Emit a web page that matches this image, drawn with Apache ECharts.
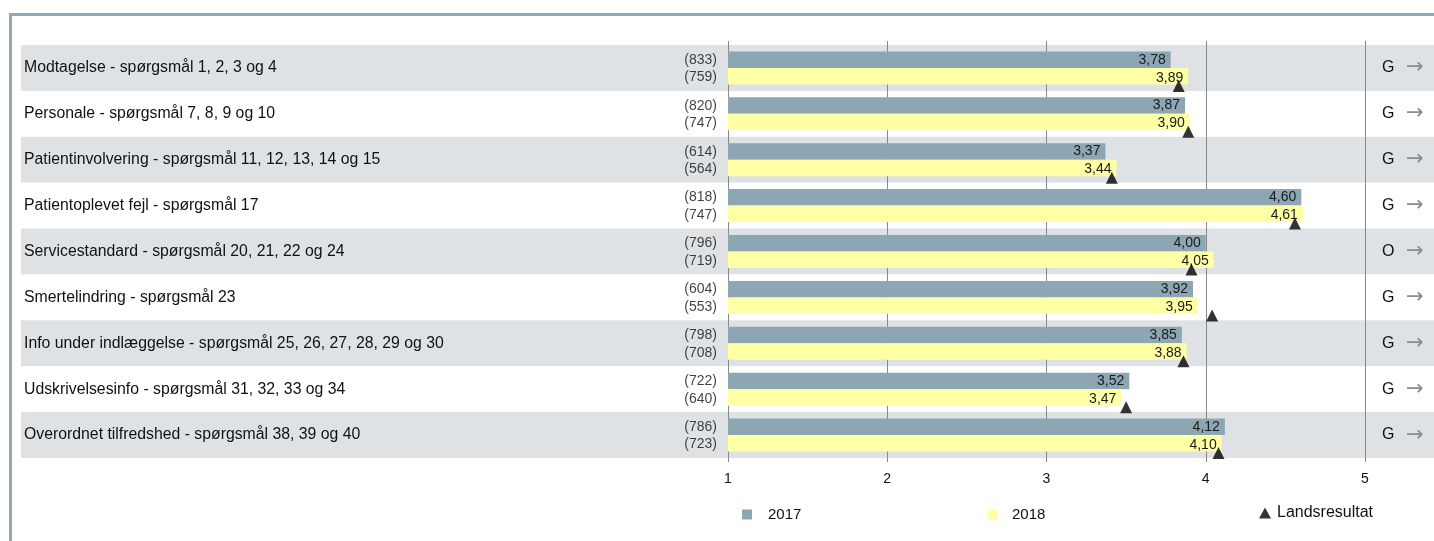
<!DOCTYPE html>
<html><head><meta charset="utf-8">
<script src="https://cdn.jsdelivr.net/npm/echarts@6/dist/echarts.min.js"></script>
<style>html,body{margin:0;padding:0;background:#fff}#c{width:1434px;height:541px}</style>
</head><body><div id="c"></div>
<script>
const categories = [
  'Modtagelse - spørgsmål 1, 2, 3 og 4',
  'Personale - spørgsmål 7, 8, 9 og 10',
  'Patientinvolvering - spørgsmål 11, 12, 13, 14 og 15',
  'Patientoplevet fejl - spørgsmål 17',
  'Servicestandard - spørgsmål 20, 21, 22 og 24',
  'Smertelindring - spørgsmål 23',
  'Info under indlæggelse - spørgsmål 25, 26, 27, 28, 29 og 30',
  'Udskrivelsesinfo - spørgsmål 31, 32, 33 og 34',
  'Overordnet tilfredshed - spørgsmål 38, 39 og 40'
];
const values2017 = [3.78, 3.87, 3.37, 4.60, 4.00, 3.92, 3.85, 3.52, 4.12];
const values2018 = [3.89, 3.90, 3.44, 4.61, 4.05, 3.95, 3.88, 3.47, 4.10];
const n2017 = [833, 820, 614, 818, 796, 604, 798, 722, 786];
const n2018 = [759, 747, 564, 747, 719, 553, 708, 640, 723];
const landsresultat = [3.83, 3.89, 3.41, 4.56, 3.91, 4.04, 3.86, 3.50, 4.08];
const statusLetters = ['G', 'G', 'G', 'G', 'O', 'G', 'G', 'G', 'G'];
const statusArrows = ['→', '→', '→', '→', '→', '→', '→', '→', '→'];
const xTicks = [1, 2, 3, 4, 5];
const seriesNames = ['2017', '2018', 'Landsresultat'];

const FONT = "'Liberation Sans', Arial, sans-serif";
const fmt = v => v.toFixed(2).replace('.', ',');
const idx = categories.map((_, i) => i);

const chart = echarts.init(document.getElementById('c'), null, {renderer: 'canvas'});
const option = {
  animation: false,
  textStyle: {fontFamily: FONT, fontSize: 14, color: '#111'},
  graphic: [{
    type: 'polyline', silent: true,
    shape: {points: [[10.5, 541], [10.5, 14.5], [1434, 14.5]]},
    style: {stroke: '#93aabb', lineWidth: 3, fill: null}
  }],
  grid: [
    {left: 21, right: 0, top: 45, bottom: 83},
    {left: 728, right: 69, top: 45, bottom: 83}
  ],
  xAxis: [
    {gridIndex: 0, type: 'value', show: false, min: 0, max: 1},
    {gridIndex: 1, type: 'value', min: xTicks[0], max: xTicks[xTicks.length - 1], interval: 1,
     axisLine: {show: false},
     axisTick: {show: true, length: 4, lineStyle: {color: '#888'}},
     axisLabel: {margin: 14, fontSize: 14, color: '#111', fontFamily: FONT},
     splitLine: {show: true, lineStyle: {color: '#888', width: 1}}},
    {gridIndex: 1, type: 'value', position: 'top', min: xTicks[0], max: xTicks[xTicks.length - 1], interval: 1,
     axisLine: {show: false},
     axisTick: {show: true, inside: false, length: 4, lineStyle: {color: '#888'}},
     axisLabel: {show: false}, splitLine: {show: false}}
  ],
  yAxis: [
    {gridIndex: 0, type: 'category', data: categories, inverse: true,
     axisLine: {show: false}, axisTick: {show: false},
     axisLabel: {inside: true, margin: 3, fontSize: 15.8, color: '#111', fontFamily: FONT, padding: [2, 0, 0, 0]},
     splitArea: {show: true, areaStyle: {color: ['#dfe2e5', '#ffffff']}},
     splitLine: {show: false}, z: 0},
    {gridIndex: 1, type: 'category', data: categories, inverse: true,
     axisLine: {show: false}, axisTick: {show: false}, axisLabel: {show: false}},
    {gridIndex: 1, type: 'category', data: statusLetters, inverse: true, position: 'right',
     axisLine: {show: false}, axisTick: {show: false},
     axisLabel: {margin: 17, align: 'left', fontSize: 16, color: '#111', fontFamily: FONT}},
    {gridIndex: 1, type: 'category', data: statusArrows, inverse: true, position: 'right',
     axisLine: {show: false}, axisTick: {show: false},
     axisLabel: {margin: 41, align: 'left', fontSize: 21, color: '#8a8a8a', fontFamily: "'DejaVu Sans', sans-serif"}}
  ],
  legend: [
    {data: [seriesNames[0]], left: 742, top: 507, padding: 0, itemWidth: 10, itemHeight: 10, icon: 'rect',
     textStyle: {fontSize: 15, color: '#111', fontFamily: FONT, padding: [0, 0, 0, 11]}, selectedMode: false},
    {data: [seriesNames[1]], left: 988, top: 507, padding: 0, itemWidth: 10, itemHeight: 10, icon: 'rect',
     textStyle: {fontSize: 15, color: '#111', fontFamily: FONT, padding: [0, 0, 0, 9]}, selectedMode: false},
    {data: [seriesNames[2]], left: 1259, top: 505, padding: 0, itemWidth: 12, itemHeight: 11, icon: 'triangle',
     textStyle: {fontSize: 16, color: '#111', fontFamily: FONT, padding: [0, 0, 0, 1]}, selectedMode: false}
  ],
  series: [
    {name: seriesNames[0], type: 'bar', xAxisIndex: 1, yAxisIndex: 1, data: values2017,
     barWidth: 16.5, barGap: '0%', itemStyle: {color: '#8ca6b4'},
     label: {show: true, position: 'insideRight', distance: 5, formatter: p => fmt(p.value),
       fontSize: 14, color: '#1a1a1a', fontFamily: FONT}},
    {name: seriesNames[1], type: 'bar', xAxisIndex: 1, yAxisIndex: 1, data: values2018,
     barWidth: 16.5, barGap: '0%', itemStyle: {color: '#ffffa6'},
     label: {show: true, position: 'insideRight', distance: 5, offset: [0, 1.5], formatter: p => fmt(p.value),
       fontSize: 14, color: '#1a1a1a', fontFamily: FONT}},
    {name: seriesNames[2], type: 'scatter', xAxisIndex: 1, yAxisIndex: 1, z: 10,
     data: idx.map(i => [landsresultat[i], i]), symbol: 'triangle', symbolSize: [12, 12],
     symbolOffset: [0, 18], itemStyle: {color: '#000'}},
    {name: 'n2017', type: 'scatter', xAxisIndex: 1, yAxisIndex: 1, silent: true,
     data: idx.map(i => [xTicks[0], i, n2017[i]]), symbolSize: 0.01, itemStyle: {color: 'rgba(0,0,0,0)'},
     label: {show: true, position: 'left', distance: 11, offset: [0, -8],
       formatter: p => '(' + p.value[2] + ')', fontSize: 14, color: '#111', fontFamily: FONT}},
    {name: 'n2018', type: 'scatter', xAxisIndex: 1, yAxisIndex: 1, silent: true,
     data: idx.map(i => [xTicks[0], i, n2018[i]]), symbolSize: 0.01, itemStyle: {color: 'rgba(0,0,0,0)'},
     label: {show: true, position: 'left', distance: 11, offset: [0, 9.5],
       formatter: p => '(' + p.value[2] + ')', fontSize: 14, color: '#111', fontFamily: FONT}}
  ]
};
chart.setOption(option);
</script></body></html>
